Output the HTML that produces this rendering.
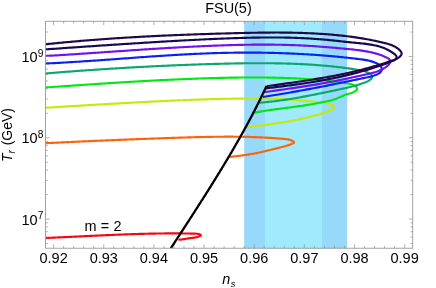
<!DOCTYPE html>
<html><head><meta charset="utf-8"><title>FSU(5)</title>
<style>
html,body{margin:0;padding:0;background:#fff;}
body{width:436px;height:288px;overflow:hidden;position:relative;font-family:"Liberation Sans",sans-serif;}
</style></head><body>
<svg width="436" height="288" viewBox="0 0 436 288" style="position:absolute;left:0;top:0;will-change:transform;opacity:0.999">
<rect width="436" height="288" fill="#fff"/>
<rect x="244.20" y="21.25" width="103.00" height="226.95" fill="#96d9fb"/>
<rect x="265.00" y="21.25" width="57.00" height="226.95" fill="#9feafc"/>
<defs><clipPath id="c"><rect x="45.60" y="21.25" width="367.15" height="226.95"/></clipPath></defs>
<g clip-path="url(#c)" fill="none" stroke-linecap="butt" stroke-linejoin="round">
<path d="M45.59 237.97 L46.19 237.95 L46.79 237.92 L47.39 237.90 L47.99 237.88 L48.59 237.85 L49.19 237.83 L49.79 237.80 L50.39 237.77 L50.99 237.75 L51.59 237.72 L52.19 237.70 L52.79 237.67 L53.39 237.65 L53.99 237.62 L54.59 237.59 L55.19 237.57 L55.79 237.54 L56.39 237.51 L56.99 237.49 L57.59 237.46 L58.19 237.43 L58.78 237.41 L59.38 237.38 L59.98 237.35 L60.58 237.33 L61.18 237.30 L61.78 237.27 L62.38 237.24 L62.98 237.22 L63.58 237.19 L64.18 237.16 L64.78 237.13 L65.38 237.11 L65.98 237.08 L66.58 237.05 L67.18 237.02 L67.78 236.99 L68.38 236.97 L68.98 236.94 L69.57 236.91 L70.17 236.88 L70.77 236.85 L71.37 236.82 L71.97 236.80 L72.57 236.77 L73.17 236.74 L73.77 236.71 L74.37 236.68 L74.97 236.65 L75.57 236.63 L76.17 236.60 L76.77 236.57 L77.36 236.54 L77.96 236.51 L78.56 236.48 L79.16 236.45 L79.76 236.42 L80.36 236.40 L80.96 236.37 L81.56 236.34 L82.16 236.31 L82.76 236.28 L83.35 236.25 L83.95 236.22 L84.55 236.19 L85.15 236.17 L85.75 236.14 L86.35 236.11 L86.95 236.08 L87.55 236.05 L88.15 236.02 L88.74 235.99 L89.34 235.97 L89.94 235.94 L90.54 235.91 L91.14 235.88 L91.74 235.85 L92.34 235.82 L92.94 235.80 L93.54 235.77 L94.13 235.74 L94.73 235.71 L95.33 235.68 L95.93 235.65 L96.53 235.63 L97.13 235.60 L97.73 235.57 L98.33 235.54 L98.92 235.52 L99.52 235.49 L100.12 235.46 L100.72 235.43 L101.32 235.40 L101.92 235.38 L102.52 235.35 L103.12 235.32 L103.71 235.30 L104.31 235.27 L104.91 235.24 L105.51 235.22 L106.11 235.19 L106.71 235.16 L107.31 235.14 L107.91 235.11 L108.51 235.08 L109.10 235.06 L109.70 235.03 L110.30 235.00 L110.90 234.98 L111.50 234.95 L112.10 234.93 L112.70 234.90 L113.30 234.88 L113.89 234.85 L114.49 234.83 L115.09 234.80 L115.69 234.78 L116.29 234.75 L116.89 234.73 L117.49 234.70 L118.09 234.68 L118.69 234.65 L119.28 234.63 L119.88 234.61 L120.48 234.58 L121.08 234.56 L121.68 234.54 L122.28 234.51 L122.88 234.49 L123.48 234.47 L124.08 234.44 L124.68 234.42 L125.27 234.40 L125.87 234.38 L126.47 234.36 L127.07 234.33 L127.67 234.31 L128.27 234.29 L128.87 234.27 L129.47 234.25 L130.07 234.23 L130.67 234.21 L131.27 234.19 L131.86 234.17 L132.46 234.15 L133.06 234.13 L133.66 234.11 L134.26 234.09 L134.86 234.07 L135.46 234.05 L136.06 234.03 L136.66 234.01 L137.26 233.99 L137.86 233.98 L138.46 233.96 L139.06 233.94 L139.66 233.92 L140.25 233.91 L140.85 233.89 L141.45 233.87 L142.05 233.86 L142.65 233.84 L143.25 233.82 L143.85 233.81 L144.45 233.79 L145.05 233.78 L145.65 233.76 L146.25 233.75 L146.85 233.73 L147.45 233.72 L148.05 233.71 L148.65 233.69 L149.25 233.68 L149.85 233.67 L150.45 233.65 L151.05 233.64 L151.65 233.63 L152.25 233.62 L152.85 233.61 L153.45 233.60 L154.05 233.58 L154.65 233.57 L155.25 233.56 L155.85 233.55 L156.45 233.54 L157.05 233.53 L157.65 233.52 L158.25 233.52 L158.85 233.51 L159.45 233.50 L160.05 233.49 L160.65 233.48 L161.25 233.48 L161.85 233.47 L162.45 233.46 L163.05 233.46 L163.65 233.45 L164.25 233.45 L164.85 233.44 L165.45 233.43 L166.05 233.43 L166.65 233.43 L167.25 233.42 L167.86 233.42 L168.46 233.42 L169.06 233.41 L169.66 233.41 L170.26 233.41 L170.86 233.41 L171.46 233.40 L172.06 233.40 L172.66 233.40 L173.26 233.40 L173.86 233.40 L174.47 233.40 L175.07 233.40 L175.67 233.41 L176.27 233.41 L176.87 233.41 L177.47 233.41 L178.07 233.41 L178.67 233.42 L179.28 233.42 L179.88 233.42 L180.48 233.43 L181.08 233.43 L181.68 233.44 L182.28 233.44 L182.89 233.45 L183.49 233.46 L184.09 233.46 L184.69 233.47 L185.29 233.48 L185.89 233.49 L186.50 233.50 L187.10 233.50 L187.70 233.51 L188.30 233.52 L188.91 233.53 L189.51 233.54 L190.11 233.56 L190.71 233.57 L191.31 233.58 L191.92 233.59 L192.52 233.60 L193.12 233.62 L193.72 233.63 L194.33 233.65 L194.93 233.66 L195.53 233.68 L196.13 233.70 L196.73 233.73 L197.33 233.79 L197.93 233.87 L198.52 234.00 L199.11 234.16 L199.69 234.38 L200.24 234.64 L200.66 234.94 L200.86 235.25 L200.75 235.56 L200.40 235.84 L199.89 236.11 L199.33 236.35 L198.76 236.57 L198.18 236.77 L197.59 236.95 L197.00 237.11 L196.41 237.25 L195.81 237.37 L195.20 237.49 L194.60 237.59 L193.99 237.68 L193.38 237.77 L192.77 237.85 L192.16 237.93 L191.56 238.00 L190.95 238.08 L190.35 238.16 L189.75 238.24 L189.16 238.33 L188.56 238.42 L187.97 238.51 L187.39 238.60 L186.80 238.70 L186.21 238.79 L185.63 238.89 L185.04 238.99 L184.46 239.08 L183.87 239.17 L183.29 239.26 L182.70 239.34 L182.11 239.42 L181.51 239.50 L180.91 239.57 L180.31 239.63 L179.71 239.69 L179.10 239.74 L178.48 239.78" stroke="#f40810" stroke-width="2.15"/>
<path d="M45.59 143.18 L46.65 143.13 L47.71 143.08 L48.77 143.03 L49.83 142.98 L50.89 142.92 L51.94 142.87 L53.00 142.82 L54.06 142.77 L55.12 142.72 L56.18 142.67 L57.24 142.62 L58.30 142.57 L59.35 142.52 L60.41 142.47 L61.47 142.42 L62.53 142.37 L63.59 142.32 L64.64 142.27 L65.70 142.22 L66.76 142.17 L67.82 142.12 L68.88 142.07 L69.94 142.02 L70.99 141.97 L72.05 141.92 L73.11 141.87 L74.17 141.82 L75.23 141.77 L76.28 141.73 L77.34 141.68 L78.40 141.63 L79.46 141.58 L80.52 141.53 L81.57 141.49 L82.63 141.44 L83.69 141.39 L84.75 141.34 L85.80 141.30 L86.86 141.25 L87.92 141.20 L88.98 141.15 L90.04 141.11 L91.09 141.06 L92.15 141.01 L93.21 140.97 L94.27 140.92 L95.33 140.88 L96.38 140.83 L97.44 140.78 L98.50 140.74 L99.56 140.69 L100.61 140.65 L101.67 140.60 L102.73 140.56 L103.79 140.51 L104.85 140.47 L105.90 140.42 L106.96 140.38 L108.02 140.33 L109.08 140.29 L110.14 140.25 L111.19 140.20 L112.25 140.16 L113.31 140.11 L114.37 140.07 L115.42 140.03 L116.48 139.98 L117.54 139.94 L118.60 139.90 L119.66 139.86 L120.71 139.81 L121.77 139.77 L122.83 139.73 L123.89 139.69 L124.95 139.64 L126.00 139.60 L127.06 139.56 L128.12 139.52 L129.18 139.48 L130.24 139.43 L131.29 139.39 L132.35 139.35 L133.41 139.31 L134.47 139.27 L135.53 139.23 L136.58 139.19 L137.64 139.15 L138.70 139.11 L139.76 139.07 L140.82 139.03 L141.87 138.99 L142.93 138.95 L143.99 138.91 L145.05 138.87 L146.11 138.83 L147.17 138.79 L148.22 138.75 L149.28 138.71 L150.34 138.67 L151.40 138.64 L152.46 138.60 L153.51 138.56 L154.57 138.52 L155.63 138.48 L156.69 138.45 L157.75 138.41 L158.81 138.37 L159.87 138.33 L160.92 138.30 L161.98 138.26 L163.04 138.22 L164.10 138.19 L165.16 138.15 L166.22 138.11 L167.28 138.08 L168.33 138.04 L169.39 138.00 L170.45 137.97 L171.51 137.93 L172.57 137.90 L173.63 137.86 L174.69 137.83 L175.75 137.79 L176.81 137.76 L177.86 137.72 L178.92 137.69 L179.98 137.65 L181.04 137.62 L182.10 137.58 L183.16 137.55 L184.22 137.52 L185.28 137.48 L186.34 137.45 L187.40 137.42 L188.46 137.39 L189.52 137.36 L190.57 137.32 L191.63 137.29 L192.69 137.26 L193.75 137.23 L194.81 137.20 L195.87 137.18 L196.93 137.15 L197.99 137.12 L199.05 137.09 L200.11 137.07 L201.17 137.04 L202.23 137.02 L203.29 136.99 L204.35 136.97 L205.40 136.95 L206.46 136.92 L207.52 136.90 L208.58 136.88 L209.64 136.86 L210.70 136.85 L211.76 136.83 L212.82 136.81 L213.88 136.79 L214.94 136.78 L216.00 136.77 L217.06 136.75 L218.12 136.74 L219.17 136.73 L220.23 136.72 L221.29 136.71 L222.35 136.70 L223.41 136.70 L224.47 136.69 L225.53 136.69 L226.59 136.68 L227.65 136.68 L228.70 136.68 L229.76 136.68 L230.82 136.69 L231.88 136.69 L232.94 136.69 L234.00 136.70 L235.06 136.71 L236.11 136.72 L237.17 136.73 L238.23 136.74 L239.29 136.75 L240.35 136.77 L241.41 136.78 L242.46 136.80 L243.52 136.82 L244.58 136.84 L245.64 136.86 L246.70 136.89 L247.75 136.91 L248.81 136.94 L249.87 136.97 L250.93 137.00 L251.98 137.03 L253.04 137.07 L254.10 137.10 L255.15 137.14 L256.21 137.18 L257.27 137.22 L258.33 137.26 L259.38 137.31 L260.44 137.36 L261.50 137.41 L262.55 137.46 L263.61 137.51 L264.67 137.57 L265.72 137.62 L266.78 137.68 L267.83 137.74 L268.89 137.81 L269.95 137.87 L271.00 137.94 L272.06 138.01 L273.11 138.08 L274.17 138.16 L275.22 138.24 L276.28 138.31 L277.33 138.40 L278.39 138.48 L279.44 138.56 L280.50 138.65 L281.55 138.74 L282.61 138.84 L283.66 138.93 L284.72 139.03 L285.77 139.13 L286.82 139.24 L287.88 139.38 L288.94 139.57 L290.00 139.84 L291.06 140.19 L292.13 140.67 L293.16 141.26 L293.90 141.90 L294.07 142.53 L293.58 143.09 L292.66 143.59 L291.54 144.05 L290.42 144.48 L289.32 144.88 L288.24 145.25 L287.18 145.60 L286.13 145.93 L285.10 146.24 L284.07 146.53 L283.06 146.80 L282.06 147.06 L281.06 147.31 L280.07 147.55 L279.08 147.79 L278.09 148.02 L277.10 148.25 L276.11 148.48 L275.11 148.72 L274.11 148.96 L273.10 149.20 L272.08 149.46 L271.05 149.72 L270.01 149.98 L268.97 150.25 L267.93 150.52 L266.88 150.78 L265.84 151.04 L264.79 151.30 L263.75 151.54 L262.71 151.78 L261.66 152.02 L260.62 152.25 L259.58 152.47 L258.54 152.69 L257.50 152.90 L256.46 153.11 L255.42 153.31 L254.38 153.50 L253.34 153.69 L252.30 153.88 L251.26 154.06 L250.22 154.23 L249.18 154.41 L248.14 154.57 L247.10 154.74 L246.06 154.90 L245.02 155.05 L243.97 155.20 L242.93 155.35 L241.89 155.49 L240.84 155.64 L239.79 155.77 L238.74 155.91 L237.69 156.04 L236.64 156.17 L235.59 156.30 L234.54 156.42 L233.48 156.55 L232.42 156.67 L231.36 156.79 L230.30 156.90 L229.24 157.02" stroke="#ff6208" stroke-width="2.15"/>
<path d="M45.60 107.73 L46.87 107.66 L48.14 107.58 L49.41 107.50 L50.68 107.43 L51.95 107.35 L53.22 107.27 L54.49 107.20 L55.76 107.12 L57.04 107.04 L58.31 106.96 L59.58 106.89 L60.85 106.81 L62.12 106.73 L63.39 106.66 L64.66 106.58 L65.93 106.50 L67.20 106.42 L68.47 106.35 L69.75 106.27 L71.02 106.19 L72.29 106.12 L73.56 106.04 L74.83 105.96 L76.10 105.89 L77.37 105.81 L78.64 105.73 L79.91 105.66 L81.18 105.58 L82.45 105.50 L83.72 105.43 L85.00 105.35 L86.27 105.27 L87.54 105.20 L88.81 105.12 L90.08 105.05 L91.35 104.97 L92.62 104.90 L93.89 104.82 L95.16 104.75 L96.43 104.67 L97.70 104.60 L98.97 104.52 L100.24 104.45 L101.51 104.37 L102.79 104.30 L104.06 104.22 L105.33 104.15 L106.60 104.07 L107.87 104.00 L109.14 103.93 L110.41 103.85 L111.68 103.78 L112.95 103.71 L114.22 103.64 L115.49 103.56 L116.76 103.49 L118.03 103.42 L119.31 103.35 L120.58 103.28 L121.85 103.21 L123.12 103.13 L124.39 103.06 L125.66 102.99 L126.93 102.92 L128.20 102.85 L129.47 102.78 L130.74 102.72 L132.01 102.65 L133.29 102.58 L134.56 102.51 L135.83 102.44 L137.10 102.37 L138.37 102.31 L139.64 102.24 L140.91 102.17 L142.18 102.11 L143.45 102.04 L144.72 101.98 L146.00 101.91 L147.27 101.85 L148.54 101.78 L149.81 101.72 L151.08 101.65 L152.35 101.59 L153.62 101.53 L154.89 101.46 L156.17 101.40 L157.44 101.34 L158.71 101.28 L159.98 101.22 L161.25 101.16 L162.52 101.10 L163.80 101.04 L165.07 100.98 L166.34 100.92 L167.61 100.86 L168.88 100.80 L170.15 100.75 L171.43 100.69 L172.70 100.63 L173.97 100.58 L175.24 100.52 L176.51 100.47 L177.78 100.41 L179.06 100.36 L180.33 100.30 L181.60 100.25 L182.87 100.20 L184.15 100.15 L185.42 100.10 L186.69 100.05 L187.96 99.99 L189.23 99.95 L190.51 99.90 L191.78 99.85 L193.05 99.80 L194.32 99.75 L195.60 99.70 L196.87 99.66 L198.14 99.61 L199.42 99.57 L200.69 99.52 L201.96 99.48 L203.23 99.44 L204.51 99.39 L205.78 99.35 L207.05 99.31 L208.33 99.27 L209.60 99.23 L210.87 99.19 L212.15 99.15 L213.42 99.12 L214.69 99.08 L215.97 99.05 L217.24 99.01 L218.51 98.98 L219.79 98.95 L221.06 98.92 L222.33 98.89 L223.61 98.86 L224.88 98.83 L226.15 98.80 L227.43 98.78 L228.70 98.75 L229.97 98.73 L231.24 98.71 L232.52 98.69 L233.79 98.67 L235.06 98.66 L236.34 98.64 L237.61 98.63 L238.88 98.61 L240.16 98.60 L241.43 98.59 L242.70 98.58 L243.98 98.58 L245.25 98.57 L246.52 98.57 L247.79 98.57 L249.07 98.57 L250.34 98.57 L251.61 98.57 L252.88 98.58 L254.16 98.59 L255.43 98.60 L256.70 98.61 L257.97 98.62 L259.25 98.64 L260.52 98.65 L261.79 98.67 L263.06 98.69 L264.33 98.72 L265.60 98.74 L266.88 98.77 L268.15 98.80 L269.42 98.83 L270.69 98.87 L271.96 98.90 L273.23 98.94 L274.50 98.98 L275.77 99.03 L277.04 99.07 L278.32 99.12 L279.59 99.17 L280.86 99.22 L282.13 99.28 L283.40 99.34 L284.67 99.40 L285.94 99.46 L287.21 99.53 L288.48 99.60 L289.75 99.67 L291.02 99.75 L292.29 99.83 L293.56 99.91 L294.83 99.99 L296.09 100.08 L297.36 100.17 L298.63 100.27 L299.90 100.36 L301.17 100.46 L302.44 100.57 L303.71 100.68 L304.98 100.79 L306.25 100.90 L307.52 101.02 L308.79 101.15 L310.06 101.27 L311.33 101.40 L312.60 101.54 L313.87 101.67 L315.14 101.82 L316.41 101.96 L317.69 102.11 L318.96 102.27 L320.23 102.42 L321.50 102.59 L322.77 102.75 L324.04 102.93 L325.31 103.10 L326.58 103.28 L327.85 103.47 L329.11 103.70 L330.34 104.03 L331.51 104.53 L332.60 105.25 L333.48 106.18 L333.87 107.20 L333.61 108.22 L332.86 109.13 L331.78 109.85 L330.52 110.41 L329.18 110.88 L327.86 111.32 L326.60 111.75 L325.38 112.19 L324.21 112.62 L323.05 113.04 L321.91 113.46 L320.76 113.86 L319.60 114.25 L318.41 114.62 L317.21 114.98 L315.99 115.33 L314.76 115.66 L313.51 115.99 L312.26 116.31 L311.01 116.62 L309.76 116.92 L308.51 117.22 L307.26 117.51 L306.02 117.80 L304.77 118.09 L303.53 118.37 L302.29 118.64 L301.05 118.91 L299.80 119.17 L298.56 119.43 L297.32 119.69 L296.07 119.93 L294.82 120.18 L293.57 120.42 L292.32 120.65 L291.07 120.88 L289.82 121.10 L288.57 121.32 L287.32 121.54 L286.06 121.75 L284.81 121.96 L283.55 122.17 L282.29 122.37 L281.04 122.57 L279.78 122.77 L278.52 122.96 L277.26 123.15 L276.00 123.34 L274.74 123.53 L273.48 123.71 L272.22 123.89 L270.96 124.07 L269.70 124.25 L268.43 124.43 L267.17 124.61 L265.91 124.78 L264.65 124.96 L263.39 125.13 L262.13 125.31 L260.86 125.48 L259.60 125.65 L258.34 125.83 L257.08 126.00 L255.82 126.17 L254.56 126.35 L253.30 126.52 L252.04 126.70 L250.78 126.88 L249.52 127.06 L248.26 127.24 L247.00 127.42" stroke="#c6ea08" stroke-width="2.15"/>
<path d="M45.60 87.49 L47.00 87.39 L48.40 87.29 L49.81 87.20 L51.21 87.10 L52.61 87.00 L54.02 86.90 L55.42 86.80 L56.82 86.70 L58.22 86.60 L59.63 86.51 L61.03 86.41 L62.43 86.31 L63.83 86.21 L65.24 86.11 L66.64 86.02 L68.04 85.92 L69.45 85.82 L70.85 85.72 L72.25 85.63 L73.66 85.53 L75.06 85.43 L76.46 85.34 L77.86 85.24 L79.27 85.15 L80.67 85.05 L82.07 84.95 L83.48 84.86 L84.88 84.76 L86.28 84.67 L87.69 84.57 L89.09 84.48 L90.49 84.38 L91.90 84.29 L93.30 84.20 L94.70 84.10 L96.11 84.01 L97.51 83.92 L98.91 83.82 L100.32 83.73 L101.72 83.64 L103.12 83.55 L104.53 83.46 L105.93 83.37 L107.33 83.28 L108.74 83.19 L110.14 83.10 L111.55 83.01 L112.95 82.92 L114.35 82.83 L115.76 82.74 L117.16 82.65 L118.56 82.57 L119.97 82.48 L121.37 82.39 L122.78 82.31 L124.18 82.22 L125.58 82.14 L126.99 82.05 L128.39 81.97 L129.79 81.88 L131.20 81.80 L132.60 81.72 L134.01 81.64 L135.41 81.55 L136.81 81.47 L138.22 81.39 L139.62 81.31 L141.03 81.23 L142.43 81.15 L143.84 81.08 L145.24 81.00 L146.64 80.92 L148.05 80.84 L149.45 80.77 L150.86 80.69 L152.26 80.62 L153.67 80.54 L155.07 80.47 L156.48 80.40 L157.88 80.33 L159.28 80.25 L160.69 80.18 L162.09 80.11 L163.50 80.04 L164.90 79.97 L166.31 79.91 L167.71 79.84 L169.12 79.77 L170.52 79.71 L171.93 79.64 L173.33 79.58 L174.74 79.51 L176.14 79.45 L177.55 79.39 L178.95 79.32 L180.36 79.26 L181.76 79.20 L183.17 79.14 L184.57 79.09 L185.98 79.03 L187.38 78.97 L188.79 78.91 L190.19 78.86 L191.60 78.81 L193.00 78.75 L194.41 78.70 L195.81 78.65 L197.22 78.60 L198.63 78.55 L200.03 78.50 L201.44 78.45 L202.84 78.40 L204.25 78.35 L205.65 78.31 L207.06 78.26 L208.46 78.22 L209.87 78.18 L211.28 78.14 L212.68 78.10 L214.09 78.06 L215.49 78.02 L216.90 77.98 L218.31 77.94 L219.71 77.91 L221.12 77.87 L222.52 77.84 L223.93 77.81 L225.34 77.78 L226.74 77.75 L228.15 77.72 L229.55 77.69 L230.96 77.67 L232.37 77.64 L233.77 77.62 L235.18 77.60 L236.59 77.58 L237.99 77.56 L239.40 77.54 L240.80 77.53 L242.21 77.51 L243.62 77.50 L245.02 77.49 L246.43 77.48 L247.83 77.47 L249.24 77.47 L250.65 77.46 L252.05 77.46 L253.46 77.46 L254.87 77.46 L256.27 77.46 L257.68 77.47 L259.08 77.48 L260.49 77.48 L261.90 77.49 L263.30 77.51 L264.71 77.52 L266.12 77.54 L267.52 77.56 L268.93 77.58 L270.33 77.60 L271.74 77.63 L273.15 77.65 L274.55 77.68 L275.96 77.72 L277.36 77.75 L278.77 77.79 L280.18 77.82 L281.58 77.86 L282.99 77.91 L284.39 77.95 L285.80 78.00 L287.20 78.05 L288.61 78.11 L290.02 78.16 L291.42 78.22 L292.83 78.28 L294.23 78.34 L295.64 78.41 L297.04 78.48 L298.45 78.55 L299.85 78.62 L301.26 78.70 L302.66 78.78 L304.07 78.86 L305.47 78.95 L306.88 79.04 L308.28 79.13 L309.68 79.23 L311.09 79.33 L312.49 79.43 L313.89 79.54 L315.29 79.65 L316.70 79.77 L318.10 79.89 L319.50 80.01 L320.90 80.14 L322.30 80.27 L323.70 80.40 L325.10 80.54 L326.49 80.69 L327.89 80.84 L329.29 80.99 L330.69 81.15 L332.08 81.31 L333.48 81.47 L334.87 81.65 L336.26 81.82 L337.66 82.00 L339.05 82.19 L340.44 82.38 L341.83 82.58 L343.22 82.78 L344.61 82.99 L346.00 83.20 L347.39 83.42 L348.77 83.65 L350.15 83.93 L351.53 84.29 L352.90 84.79 L354.26 85.46 L355.56 86.33 L356.59 87.34 L357.09 88.42 L356.87 89.48 L356.05 90.49 L354.86 91.38 L353.51 92.12 L352.14 92.69 L350.76 93.16 L349.37 93.56 L348.00 93.95 L346.65 94.37 L345.33 94.84 L344.02 95.35 L342.72 95.89 L341.44 96.45 L340.16 97.01 L338.88 97.58 L337.59 98.12 L336.30 98.65 L334.99 99.13 L333.66 99.58 L332.32 99.98 L330.97 100.35 L329.60 100.69 L328.22 101.01 L326.84 101.31 L325.46 101.59 L324.07 101.86 L322.68 102.14 L321.30 102.41 L319.92 102.68 L318.53 102.95 L317.15 103.21 L315.77 103.47 L314.39 103.73 L313.01 103.98 L311.62 104.23 L310.24 104.46 L308.85 104.70 L307.47 104.92 L306.08 105.14 L304.69 105.36 L303.30 105.57 L301.91 105.77 L300.52 105.98 L299.13 106.18 L297.74 106.37 L296.34 106.56 L294.95 106.75 L293.56 106.94 L292.16 107.12 L290.77 107.31 L289.37 107.49 L287.98 107.67 L286.58 107.85 L285.19 108.03 L283.79 108.22 L282.40 108.40 L281.00 108.58 L279.61 108.76 L278.21 108.95 L276.82 109.14 L275.42 109.33 L274.03 109.52 L272.64 109.71 L271.24 109.91 L269.85 110.11 L268.46 110.32 L267.07 110.53 L265.68 110.75 L264.29 110.97 L262.90 111.20 L261.52 111.43 L260.13 111.67 L258.75 111.91 L257.36 112.16 L255.98 112.42 L254.60 112.69" stroke="#00e812" stroke-width="2.15"/>
<path d="M45.60 73.45 L47.09 73.32 L48.58 73.20 L50.07 73.08 L51.56 72.96 L53.05 72.84 L54.54 72.73 L56.03 72.61 L57.52 72.49 L59.01 72.37 L60.50 72.26 L61.99 72.14 L63.48 72.03 L64.97 71.91 L66.46 71.80 L67.95 71.68 L69.44 71.57 L70.93 71.46 L72.42 71.35 L73.91 71.24 L75.41 71.13 L76.90 71.02 L78.39 70.91 L79.88 70.80 L81.37 70.69 L82.86 70.59 L84.35 70.48 L85.84 70.38 L87.34 70.27 L88.83 70.17 L90.32 70.06 L91.81 69.96 L93.30 69.86 L94.79 69.76 L96.29 69.66 L97.78 69.56 L99.27 69.46 L100.76 69.36 L102.25 69.26 L103.75 69.16 L105.24 69.07 L106.73 68.97 L108.22 68.87 L109.72 68.78 L111.21 68.68 L112.70 68.59 L114.19 68.50 L115.69 68.41 L117.18 68.32 L118.67 68.22 L120.16 68.13 L121.66 68.05 L123.15 67.96 L124.64 67.87 L126.14 67.78 L127.63 67.69 L129.12 67.61 L130.62 67.52 L132.11 67.44 L133.60 67.36 L135.10 67.27 L136.59 67.19 L138.08 67.11 L139.58 67.03 L141.07 66.95 L142.56 66.87 L144.06 66.79 L145.55 66.71 L147.04 66.64 L148.54 66.56 L150.03 66.48 L151.52 66.41 L153.02 66.33 L154.51 66.26 L156.01 66.19 L157.50 66.12 L158.99 66.04 L160.49 65.97 L161.98 65.90 L163.47 65.83 L164.97 65.77 L166.46 65.70 L167.96 65.63 L169.45 65.57 L170.94 65.50 L172.44 65.44 L173.93 65.37 L175.43 65.31 L176.92 65.25 L178.41 65.18 L179.91 65.12 L181.40 65.06 L182.90 65.00 L184.39 64.95 L185.89 64.89 L187.38 64.83 L188.87 64.78 L190.37 64.72 L191.86 64.67 L193.36 64.61 L194.85 64.56 L196.34 64.51 L197.84 64.45 L199.33 64.40 L200.83 64.35 L202.32 64.30 L203.82 64.26 L205.31 64.21 L206.80 64.16 L208.30 64.12 L209.79 64.07 L211.29 64.03 L212.78 63.98 L214.28 63.94 L215.77 63.90 L217.26 63.86 L218.76 63.82 L220.25 63.78 L221.75 63.74 L223.24 63.70 L224.74 63.67 L226.23 63.63 L227.72 63.60 L229.22 63.56 L230.71 63.53 L232.21 63.50 L233.70 63.47 L235.19 63.44 L236.69 63.41 L238.18 63.39 L239.68 63.36 L241.17 63.34 L242.67 63.32 L244.16 63.30 L245.65 63.28 L247.15 63.26 L248.64 63.25 L250.14 63.24 L251.63 63.23 L253.13 63.22 L254.62 63.21 L256.12 63.20 L257.61 63.20 L259.11 63.20 L260.60 63.20 L262.09 63.20 L263.59 63.20 L265.08 63.21 L266.58 63.22 L268.07 63.23 L269.57 63.24 L271.06 63.25 L272.56 63.27 L274.05 63.29 L275.55 63.31 L277.04 63.34 L278.54 63.37 L280.03 63.40 L281.53 63.43 L283.02 63.46 L284.52 63.50 L286.02 63.54 L287.51 63.59 L289.01 63.63 L290.50 63.68 L292.00 63.73 L293.49 63.79 L294.99 63.84 L296.49 63.91 L297.98 63.97 L299.48 64.04 L300.97 64.11 L302.47 64.18 L303.97 64.26 L305.46 64.34 L306.96 64.42 L308.46 64.51 L309.95 64.60 L311.45 64.69 L312.94 64.79 L314.44 64.89 L315.93 64.99 L317.43 65.10 L318.92 65.22 L320.41 65.33 L321.91 65.46 L323.40 65.58 L324.89 65.71 L326.38 65.84 L327.87 65.98 L329.36 66.13 L330.85 66.27 L332.33 66.43 L333.82 66.58 L335.31 66.75 L336.79 66.91 L338.27 67.09 L339.75 67.26 L341.23 67.44 L342.71 67.63 L344.19 67.82 L345.66 68.02 L347.13 68.23 L348.60 68.43 L350.07 68.65 L351.54 68.87 L353.01 69.10 L354.47 69.33 L355.94 69.57 L357.40 69.81 L358.85 70.06 L360.31 70.32 L361.77 70.59 L363.23 70.91 L364.70 71.30 L366.18 71.79 L367.69 72.42 L369.21 73.21 L370.62 74.15 L371.71 75.20 L372.26 76.34 L372.11 77.52 L371.35 78.68 L370.22 79.74 L368.95 80.63 L367.60 81.37 L366.20 82.00 L364.77 82.56 L363.34 83.08 L361.91 83.59 L360.48 84.07 L359.05 84.53 L357.61 84.97 L356.18 85.39 L354.74 85.80 L353.30 86.19 L351.86 86.57 L350.42 86.93 L348.98 87.28 L347.53 87.62 L346.09 87.96 L344.64 88.28 L343.19 88.60 L341.73 88.92 L340.28 89.23 L338.82 89.54 L337.36 89.85 L335.90 90.16 L334.44 90.47 L332.97 90.78 L331.51 91.08 L330.04 91.39 L328.57 91.70 L327.11 92.00 L325.64 92.30 L324.17 92.61 L322.70 92.91 L321.23 93.21 L319.76 93.51 L318.30 93.81 L316.83 94.10 L315.36 94.39 L313.89 94.69 L312.42 94.98 L310.96 95.26 L309.49 95.55 L308.02 95.83 L306.55 96.11 L305.08 96.39 L303.61 96.66 L302.14 96.93 L300.67 97.20 L299.20 97.46 L297.73 97.72 L296.25 97.98 L294.78 98.23 L293.31 98.48 L291.84 98.72 L290.36 98.96 L288.89 99.19 L287.41 99.43 L285.93 99.65 L284.46 99.87 L282.98 100.09 L281.50 100.30 L280.02 100.50 L278.54 100.70 L277.06 100.90 L275.57 101.09 L274.09 101.27 L272.61 101.45 L271.12 101.62 L269.63 101.78 L268.15 101.94 L266.66 102.09 L265.17 102.23 L263.68 102.37 L262.18 102.50 L260.69 102.62 L259.19 102.74" stroke="#08a86e" stroke-width="2.15"/>
<path d="M45.61 63.51 L47.16 63.44 L48.71 63.36 L50.26 63.29 L51.81 63.21 L53.36 63.14 L54.91 63.06 L56.46 62.98 L58.01 62.89 L59.56 62.81 L61.10 62.72 L62.65 62.64 L64.20 62.55 L65.75 62.46 L67.30 62.37 L68.85 62.28 L70.40 62.19 L71.95 62.09 L73.50 62.00 L75.05 61.90 L76.60 61.80 L78.15 61.70 L79.70 61.60 L81.25 61.50 L82.79 61.40 L84.34 61.30 L85.89 61.19 L87.44 61.09 L88.99 60.99 L90.54 60.88 L92.09 60.77 L93.64 60.67 L95.19 60.56 L96.74 60.45 L98.29 60.34 L99.84 60.23 L101.39 60.12 L102.94 60.01 L104.49 59.90 L106.04 59.79 L107.58 59.68 L109.13 59.56 L110.68 59.45 L112.23 59.34 L113.78 59.22 L115.33 59.11 L116.88 59.00 L118.43 58.88 L119.98 58.77 L121.53 58.66 L123.08 58.54 L124.63 58.43 L126.18 58.32 L127.73 58.20 L129.28 58.09 L130.83 57.98 L132.38 57.86 L133.93 57.75 L135.48 57.64 L137.03 57.53 L138.58 57.42 L140.13 57.30 L141.68 57.19 L143.23 57.08 L144.78 56.97 L146.33 56.86 L147.88 56.76 L149.43 56.65 L150.98 56.54 L152.52 56.43 L154.07 56.33 L155.62 56.22 L157.17 56.12 L158.72 56.01 L160.27 55.91 L161.82 55.81 L163.37 55.71 L164.92 55.61 L166.47 55.51 L168.02 55.41 L169.57 55.31 L171.12 55.22 L172.68 55.12 L174.23 55.03 L175.78 54.94 L177.33 54.85 L178.88 54.76 L180.43 54.67 L181.98 54.58 L183.53 54.50 L185.08 54.41 L186.63 54.33 L188.18 54.25 L189.73 54.17 L191.28 54.09 L192.83 54.01 L194.38 53.94 L195.93 53.86 L197.48 53.79 L199.03 53.72 L200.58 53.66 L202.13 53.59 L203.68 53.53 L205.23 53.46 L206.78 53.40 L208.34 53.35 L209.89 53.29 L211.44 53.23 L212.99 53.18 L214.54 53.13 L216.09 53.08 L217.64 53.04 L219.19 53.00 L220.74 52.95 L222.29 52.92 L223.84 52.88 L225.40 52.84 L226.95 52.81 L228.50 52.78 L230.05 52.75 L231.60 52.73 L233.15 52.71 L234.70 52.69 L236.25 52.67 L237.81 52.65 L239.36 52.64 L240.91 52.63 L242.46 52.62 L244.01 52.61 L245.56 52.60 L247.12 52.60 L248.67 52.60 L250.22 52.60 L251.77 52.61 L253.32 52.62 L254.88 52.63 L256.43 52.64 L257.98 52.65 L259.53 52.67 L261.08 52.69 L262.64 52.71 L264.19 52.73 L265.74 52.76 L267.29 52.79 L268.85 52.82 L270.40 52.85 L271.95 52.89 L273.51 52.92 L275.06 52.96 L276.61 53.01 L278.17 53.05 L279.72 53.10 L281.27 53.15 L282.83 53.20 L284.38 53.26 L285.93 53.32 L287.49 53.38 L289.04 53.44 L290.60 53.51 L292.15 53.57 L293.71 53.64 L295.26 53.72 L296.81 53.79 L298.37 53.87 L299.92 53.95 L301.48 54.03 L303.03 54.12 L304.59 54.21 L306.14 54.30 L307.70 54.39 L309.25 54.49 L310.81 54.59 L312.36 54.69 L313.92 54.79 L315.47 54.90 L317.03 55.01 L318.58 55.12 L320.13 55.23 L321.69 55.35 L323.24 55.47 L324.79 55.59 L326.34 55.72 L327.89 55.85 L329.43 55.98 L330.98 56.11 L332.53 56.25 L334.07 56.39 L335.62 56.53 L337.16 56.68 L338.70 56.82 L340.24 56.98 L341.78 57.13 L343.32 57.29 L344.85 57.45 L346.38 57.61 L347.92 57.78 L349.45 57.95 L350.98 58.12 L352.50 58.29 L354.03 58.47 L355.55 58.65 L357.07 58.84 L358.59 59.02 L360.10 59.22 L361.62 59.41 L363.13 59.62 L364.65 59.85 L366.17 60.11 L367.69 60.41 L369.22 60.75 L370.76 61.15 L372.31 61.61 L373.87 62.15 L375.44 62.76 L376.99 63.46 L378.45 64.27 L379.74 65.18 L380.78 66.23 L381.49 67.41 L381.79 68.73 L381.63 70.19 L381.00 71.59 L379.94 72.74 L378.58 73.65 L377.09 74.39 L375.58 75.03 L374.08 75.58 L372.59 76.06 L371.09 76.48 L369.60 76.85 L368.11 77.18 L366.61 77.49 L365.12 77.79 L363.62 78.09 L362.11 78.39 L360.60 78.70 L359.09 79.02 L357.57 79.33 L356.05 79.65 L354.53 79.97 L353.01 80.29 L351.48 80.61 L349.96 80.93 L348.43 81.25 L346.91 81.56 L345.39 81.88 L343.86 82.19 L342.34 82.51 L340.82 82.82 L339.29 83.13 L337.77 83.44 L336.25 83.75 L334.72 84.06 L333.20 84.37 L331.67 84.67 L330.15 84.98 L328.63 85.28 L327.10 85.59 L325.58 85.89 L324.06 86.19 L322.53 86.49 L321.01 86.78 L319.48 87.08 L317.96 87.37 L316.43 87.67 L314.91 87.96 L313.39 88.25 L311.86 88.54 L310.33 88.83 L308.81 89.11 L307.28 89.40 L305.76 89.68 L304.23 89.96 L302.71 90.24 L301.18 90.52 L299.65 90.80 L298.12 91.08 L296.60 91.35 L295.07 91.63 L293.54 91.90 L292.01 92.17 L290.48 92.44 L288.96 92.70 L287.43 92.97 L285.90 93.23 L284.37 93.49 L282.84 93.75 L281.30 94.01 L279.77 94.27 L278.24 94.52 L276.71 94.78 L275.18 95.03 L273.64 95.28 L272.11 95.53 L270.57 95.78 L269.04 96.02 L267.51 96.26 L265.97 96.51 L264.43 96.74 L262.90 96.98" stroke="#0a20f6" stroke-width="2.15"/>
<path d="M45.60 55.97 L47.20 55.88 L48.80 55.79 L50.41 55.69 L52.01 55.60 L53.62 55.51 L55.22 55.41 L56.82 55.31 L58.43 55.22 L60.03 55.12 L61.63 55.02 L63.24 54.92 L64.84 54.82 L66.44 54.72 L68.05 54.62 L69.65 54.51 L71.25 54.41 L72.85 54.31 L74.46 54.20 L76.06 54.10 L77.66 54.00 L79.26 53.89 L80.87 53.78 L82.47 53.68 L84.07 53.57 L85.67 53.46 L87.28 53.36 L88.88 53.25 L90.48 53.14 L92.08 53.03 L93.69 52.92 L95.29 52.82 L96.89 52.71 L98.49 52.60 L100.10 52.49 L101.70 52.38 L103.30 52.27 L104.90 52.16 L106.50 52.05 L108.11 51.94 L109.71 51.83 L111.31 51.72 L112.91 51.61 L114.51 51.50 L116.12 51.39 L117.72 51.28 L119.32 51.17 L120.92 51.06 L122.52 50.95 L124.13 50.84 L125.73 50.73 L127.33 50.62 L128.93 50.51 L130.53 50.41 L132.13 50.30 L133.74 50.19 L135.34 50.08 L136.94 49.97 L138.54 49.87 L140.15 49.76 L141.75 49.66 L143.35 49.55 L144.95 49.44 L146.55 49.34 L148.16 49.24 L149.76 49.13 L151.36 49.03 L152.96 48.93 L154.56 48.83 L156.17 48.72 L157.77 48.62 L159.37 48.52 L160.97 48.42 L162.58 48.33 L164.18 48.23 L165.78 48.13 L167.39 48.03 L168.99 47.94 L170.59 47.85 L172.19 47.75 L173.80 47.66 L175.40 47.57 L177.00 47.48 L178.61 47.39 L180.21 47.30 L181.81 47.21 L183.42 47.12 L185.02 47.04 L186.62 46.95 L188.23 46.87 L189.83 46.78 L191.43 46.70 L193.04 46.62 L194.64 46.54 L196.25 46.46 L197.85 46.39 L199.45 46.31 L201.06 46.24 L202.66 46.16 L204.27 46.09 L205.87 46.02 L207.48 45.95 L209.08 45.89 L210.69 45.82 L212.29 45.75 L213.90 45.69 L215.50 45.63 L217.11 45.57 L218.71 45.51 L220.32 45.45 L221.92 45.40 L223.53 45.34 L225.14 45.29 L226.74 45.24 L228.35 45.19 L229.96 45.14 L231.56 45.10 L233.17 45.05 L234.78 45.01 L236.38 44.97 L237.99 44.93 L239.60 44.90 L241.20 44.86 L242.81 44.83 L244.42 44.80 L246.02 44.77 L247.63 44.75 L249.24 44.72 L250.84 44.70 L252.45 44.68 L254.06 44.67 L255.66 44.65 L257.27 44.64 L258.88 44.63 L260.48 44.63 L262.09 44.63 L263.70 44.62 L265.30 44.63 L266.91 44.63 L268.51 44.64 L270.12 44.65 L271.73 44.66 L273.33 44.68 L274.94 44.70 L276.54 44.72 L278.15 44.74 L279.75 44.77 L281.36 44.80 L282.96 44.84 L284.56 44.88 L286.17 44.92 L287.77 44.96 L289.38 45.01 L290.98 45.06 L292.58 45.11 L294.19 45.17 L295.79 45.23 L297.39 45.30 L298.99 45.37 L300.59 45.44 L302.19 45.52 L303.80 45.60 L305.40 45.68 L307.00 45.77 L308.60 45.86 L310.20 45.95 L311.79 46.05 L313.39 46.16 L314.99 46.26 L316.59 46.38 L318.19 46.49 L319.79 46.61 L321.39 46.73 L322.98 46.85 L324.58 46.98 L326.18 47.11 L327.78 47.24 L329.39 47.38 L330.99 47.52 L332.59 47.65 L334.20 47.79 L335.81 47.94 L337.42 48.08 L339.03 48.22 L340.64 48.37 L342.25 48.51 L343.87 48.66 L345.49 48.81 L347.11 48.96 L348.73 49.11 L350.35 49.27 L351.97 49.43 L353.58 49.60 L355.20 49.78 L356.80 49.97 L358.40 50.17 L360.00 50.38 L361.59 50.60 L363.17 50.84 L364.75 51.09 L366.31 51.36 L367.86 51.64 L369.40 51.95 L370.93 52.27 L372.45 52.62 L373.96 52.99 L375.45 53.38 L376.95 53.81 L378.46 54.28 L379.98 54.79 L381.53 55.36 L383.10 55.97 L384.72 56.65 L386.36 57.40 L387.91 58.24 L389.19 59.20 L390.02 60.31 L390.23 61.58 L389.86 62.95 L389.04 64.28 L387.89 65.51 L386.52 66.63 L385.06 67.63 L383.60 68.51 L382.17 69.29 L380.74 69.99 L379.32 70.61 L377.88 71.17 L376.42 71.69 L374.92 72.18 L373.41 72.63 L371.87 73.05 L370.32 73.46 L368.75 73.84 L367.18 74.21 L365.59 74.56 L364.00 74.91 L362.41 75.25 L360.82 75.59 L359.24 75.94 L357.66 76.28 L356.08 76.63 L354.51 76.98 L352.94 77.32 L351.37 77.67 L349.80 78.01 L348.24 78.35 L346.67 78.69 L345.10 79.02 L343.54 79.35 L341.97 79.68 L340.40 80.00 L338.82 80.32 L337.25 80.63 L335.68 80.94 L334.10 81.24 L332.53 81.54 L330.95 81.84 L329.37 82.13 L327.80 82.42 L326.22 82.71 L324.64 82.99 L323.06 83.27 L321.47 83.55 L319.89 83.82 L318.31 84.09 L316.72 84.36 L315.14 84.62 L313.56 84.88 L311.97 85.14 L310.38 85.40 L308.80 85.66 L307.21 85.91 L305.62 86.16 L304.04 86.40 L302.45 86.65 L300.86 86.89 L299.27 87.14 L297.68 87.38 L296.09 87.61 L294.50 87.85 L292.91 88.09 L291.32 88.32 L289.73 88.55 L288.14 88.78 L286.55 89.02 L284.96 89.24 L283.37 89.47 L281.78 89.70 L280.19 89.93 L278.60 90.15 L277.01 90.38 L275.42 90.61 L273.83 90.83 L272.24 91.06 L270.66 91.28 L269.07 91.51 L267.48 91.73 L265.89 91.96 L264.30 92.18" stroke="#7410ee" stroke-width="2.15"/>
<path d="M45.60 49.39 L47.24 49.28 L48.88 49.16 L50.51 49.05 L52.15 48.93 L53.79 48.82 L55.43 48.70 L57.07 48.59 L58.70 48.47 L60.34 48.36 L61.98 48.24 L63.62 48.13 L65.26 48.01 L66.90 47.90 L68.54 47.78 L70.18 47.67 L71.82 47.56 L73.46 47.44 L75.10 47.33 L76.74 47.22 L78.38 47.11 L80.02 46.99 L81.66 46.88 L83.30 46.77 L84.94 46.66 L86.58 46.55 L88.22 46.43 L89.86 46.32 L91.50 46.21 L93.14 46.10 L94.78 45.99 L96.42 45.88 L98.06 45.77 L99.70 45.66 L101.34 45.55 L102.98 45.44 L104.63 45.33 L106.27 45.22 L107.91 45.11 L109.55 45.01 L111.19 44.90 L112.83 44.79 L114.47 44.68 L116.11 44.57 L117.75 44.47 L119.39 44.36 L121.03 44.25 L122.67 44.15 L124.32 44.04 L125.96 43.93 L127.60 43.83 L129.24 43.72 L130.88 43.62 L132.52 43.51 L134.16 43.41 L135.80 43.30 L137.44 43.20 L139.08 43.10 L140.72 42.99 L142.36 42.89 L144.00 42.79 L145.64 42.68 L147.28 42.58 L148.92 42.48 L150.56 42.38 L152.19 42.28 L153.83 42.18 L155.47 42.08 L157.11 41.98 L158.75 41.88 L160.39 41.78 L162.03 41.68 L163.67 41.58 L165.31 41.49 L166.95 41.39 L168.59 41.30 L170.23 41.20 L171.87 41.11 L173.50 41.01 L175.14 40.92 L176.78 40.83 L178.42 40.74 L180.06 40.64 L181.70 40.55 L183.34 40.46 L184.98 40.38 L186.62 40.29 L188.26 40.20 L189.90 40.12 L191.54 40.03 L193.18 39.95 L194.82 39.86 L196.46 39.78 L198.10 39.70 L199.74 39.62 L201.38 39.54 L203.02 39.46 L204.66 39.38 L206.30 39.30 L207.95 39.23 L209.59 39.15 L211.23 39.08 L212.87 39.01 L214.51 38.94 L216.15 38.87 L217.80 38.80 L219.44 38.73 L221.08 38.66 L222.73 38.60 L224.37 38.54 L226.01 38.47 L227.66 38.41 L229.30 38.35 L230.94 38.29 L232.59 38.23 L234.23 38.18 L235.88 38.12 L237.52 38.07 L239.17 38.02 L240.81 37.97 L242.46 37.92 L244.10 37.88 L245.75 37.83 L247.40 37.79 L249.04 37.75 L250.69 37.71 L252.33 37.68 L253.98 37.64 L255.63 37.61 L257.27 37.59 L258.92 37.56 L260.56 37.54 L262.21 37.52 L263.86 37.50 L265.50 37.49 L267.15 37.48 L268.79 37.47 L270.44 37.46 L272.08 37.46 L273.73 37.46 L275.37 37.47 L277.01 37.48 L278.66 37.49 L280.30 37.51 L281.95 37.53 L283.59 37.55 L285.23 37.58 L286.87 37.61 L288.52 37.65 L290.16 37.68 L291.80 37.73 L293.44 37.78 L295.08 37.83 L296.72 37.89 L298.36 37.95 L300.00 38.01 L301.63 38.08 L303.27 38.16 L304.91 38.24 L306.54 38.33 L308.18 38.42 L309.81 38.51 L311.45 38.61 L313.08 38.72 L314.72 38.83 L316.35 38.95 L317.98 39.07 L319.61 39.20 L321.24 39.33 L322.87 39.47 L324.50 39.61 L326.13 39.76 L327.75 39.92 L329.38 40.08 L331.01 40.24 L332.64 40.41 L334.27 40.58 L335.90 40.75 L337.53 40.93 L339.17 41.10 L340.80 41.28 L342.44 41.46 L344.09 41.63 L345.73 41.81 L347.38 41.99 L349.04 42.16 L350.69 42.33 L352.36 42.50 L354.02 42.67 L355.70 42.83 L357.37 42.99 L359.05 43.16 L360.73 43.33 L362.40 43.50 L364.07 43.69 L365.74 43.89 L367.40 44.10 L369.05 44.34 L370.69 44.60 L372.32 44.88 L373.93 45.19 L375.53 45.53 L377.11 45.90 L378.67 46.31 L380.21 46.76 L381.72 47.24 L383.21 47.78 L384.68 48.36 L386.11 48.99 L387.54 49.69 L388.97 50.45 L390.44 51.30 L391.95 52.24 L393.52 53.28 L394.99 54.41 L396.11 55.61 L396.63 56.86 L396.35 58.13 L395.40 59.30 L394.04 60.27 L392.43 61.06 L390.74 61.76 L389.08 62.42 L387.45 63.04 L385.86 63.64 L384.29 64.22 L382.75 64.77 L381.23 65.31 L379.73 65.83 L378.23 66.33 L376.73 66.83 L375.23 67.32 L373.73 67.80 L372.21 68.27 L370.68 68.75 L369.14 69.22 L367.59 69.69 L366.02 70.16 L364.45 70.62 L362.87 71.08 L361.28 71.53 L359.69 71.98 L358.09 72.42 L356.49 72.85 L354.89 73.28 L353.29 73.69 L351.69 74.10 L350.09 74.51 L348.48 74.90 L346.88 75.29 L345.27 75.67 L343.66 76.04 L342.06 76.41 L340.45 76.77 L338.84 77.12 L337.23 77.47 L335.62 77.81 L334.01 78.14 L332.40 78.47 L330.79 78.79 L329.18 79.11 L327.56 79.42 L325.95 79.72 L324.33 80.02 L322.72 80.31 L321.10 80.60 L319.49 80.89 L317.87 81.17 L316.25 81.44 L314.63 81.71 L313.01 81.98 L311.39 82.24 L309.77 82.50 L308.15 82.75 L306.53 83.00 L304.91 83.24 L303.28 83.49 L301.66 83.73 L300.03 83.96 L298.41 84.19 L296.78 84.42 L295.16 84.65 L293.53 84.87 L291.90 85.09 L290.28 85.31 L288.65 85.53 L287.02 85.74 L285.39 85.95 L283.76 86.16 L282.13 86.37 L280.50 86.58 L278.86 86.78 L277.23 86.99 L275.60 87.19 L273.97 87.39 L272.33 87.59 L270.70 87.79 L269.06 87.99 L267.43 88.19 L265.79 88.39" stroke="#180852" stroke-width="2.15"/>
<path d="M45.59 44.30 L47.26 44.12 L48.93 43.94 L50.60 43.77 L52.27 43.60 L53.94 43.43 L55.61 43.26 L57.28 43.09 L58.95 42.92 L60.61 42.76 L62.28 42.60 L63.95 42.44 L65.62 42.28 L67.29 42.12 L68.97 41.97 L70.64 41.82 L72.31 41.67 L73.98 41.52 L75.65 41.37 L77.32 41.22 L78.99 41.08 L80.66 40.93 L82.33 40.79 L84.01 40.65 L85.68 40.52 L87.35 40.38 L89.02 40.24 L90.69 40.11 L92.37 39.98 L94.04 39.85 L95.71 39.72 L97.38 39.59 L99.06 39.47 L100.73 39.34 L102.40 39.22 L104.08 39.10 L105.75 38.98 L107.42 38.86 L109.10 38.75 L110.77 38.63 L112.45 38.52 L114.12 38.40 L115.79 38.29 L117.47 38.18 L119.14 38.07 L120.82 37.97 L122.49 37.86 L124.17 37.76 L125.84 37.65 L127.52 37.55 L129.19 37.45 L130.87 37.35 L132.54 37.25 L134.22 37.16 L135.89 37.06 L137.57 36.97 L139.24 36.87 L140.92 36.78 L142.59 36.69 L144.27 36.60 L145.94 36.51 L147.62 36.43 L149.30 36.34 L150.97 36.26 L152.65 36.17 L154.32 36.09 L156.00 36.01 L157.68 35.93 L159.35 35.85 L161.03 35.77 L162.71 35.69 L164.38 35.62 L166.06 35.54 L167.73 35.47 L169.41 35.39 L171.09 35.32 L172.76 35.25 L174.44 35.18 L176.12 35.11 L177.80 35.04 L179.47 34.97 L181.15 34.91 L182.83 34.84 L184.50 34.78 L186.18 34.71 L187.86 34.65 L189.53 34.59 L191.21 34.52 L192.89 34.46 L194.57 34.40 L196.24 34.34 L197.92 34.29 L199.60 34.23 L201.27 34.17 L202.95 34.12 L204.63 34.06 L206.31 34.01 L207.98 33.95 L209.66 33.90 L211.34 33.85 L213.01 33.80 L214.69 33.74 L216.37 33.69 L218.05 33.64 L219.72 33.59 L221.40 33.55 L223.08 33.50 L224.76 33.45 L226.43 33.40 L228.11 33.36 L229.79 33.31 L231.46 33.27 L233.14 33.22 L234.82 33.18 L236.50 33.14 L238.17 33.09 L239.85 33.05 L241.53 33.01 L243.20 32.97 L244.88 32.93 L246.56 32.90 L248.24 32.86 L249.91 32.83 L251.59 32.79 L253.27 32.76 L254.94 32.73 L256.62 32.71 L258.30 32.68 L259.97 32.66 L261.65 32.63 L263.33 32.62 L265.01 32.60 L266.68 32.58 L268.36 32.57 L270.04 32.56 L271.71 32.55 L273.39 32.55 L275.07 32.54 L276.74 32.54 L278.42 32.55 L280.10 32.55 L281.77 32.56 L283.45 32.58 L285.13 32.59 L286.80 32.61 L288.48 32.63 L290.16 32.66 L291.84 32.69 L293.51 32.72 L295.19 32.76 L296.87 32.80 L298.54 32.84 L300.22 32.89 L301.90 32.94 L303.57 33.00 L305.25 33.06 L306.93 33.13 L308.60 33.20 L310.28 33.27 L311.96 33.35 L313.63 33.43 L315.31 33.52 L316.99 33.62 L318.66 33.71 L320.34 33.82 L322.02 33.93 L323.69 34.04 L325.37 34.16 L327.05 34.28 L328.72 34.41 L330.40 34.55 L332.08 34.69 L333.75 34.84 L335.43 34.99 L337.10 35.15 L338.77 35.32 L340.45 35.49 L342.12 35.67 L343.79 35.86 L345.46 36.05 L347.13 36.25 L348.80 36.46 L350.46 36.67 L352.13 36.89 L353.79 37.12 L355.45 37.36 L357.11 37.61 L358.77 37.86 L360.43 38.12 L362.08 38.40 L363.74 38.67 L365.39 38.96 L367.04 39.26 L368.68 39.56 L370.33 39.88 L371.97 40.20 L373.61 40.53 L375.25 40.88 L376.88 41.23 L378.51 41.59 L380.14 41.96 L381.77 42.34 L383.39 42.74 L385.01 43.14 L386.63 43.55 L388.24 44.00 L389.84 44.49 L391.41 45.05 L392.97 45.68 L394.50 46.42 L396.00 47.27 L397.45 48.25 L398.84 49.35 L400.13 50.59 L401.18 51.94 L401.68 53.35 L401.36 54.77 L400.38 56.10 L399.09 57.27 L397.68 58.23 L396.19 59.03 L394.64 59.70 L393.05 60.29 L391.44 60.83 L389.83 61.36 L388.22 61.88 L386.62 62.41 L385.01 62.92 L383.41 63.44 L381.81 63.95 L380.21 64.45 L378.61 64.95 L377.00 65.44 L375.40 65.92 L373.80 66.40 L372.19 66.87 L370.58 67.33 L368.97 67.78 L367.36 68.23 L365.74 68.66 L364.12 69.09 L362.50 69.52 L360.88 69.93 L359.26 70.34 L357.63 70.74 L356.00 71.13 L354.37 71.52 L352.74 71.90 L351.11 72.27 L349.48 72.64 L347.84 73.00 L346.20 73.36 L344.56 73.71 L342.92 74.05 L341.28 74.39 L339.64 74.73 L337.99 75.06 L336.34 75.38 L334.70 75.70 L333.05 76.01 L331.40 76.32 L329.75 76.62 L328.10 76.92 L326.44 77.22 L324.79 77.51 L323.13 77.80 L321.48 78.08 L319.82 78.36 L318.17 78.64 L316.51 78.91 L314.85 79.18 L313.19 79.45 L311.53 79.71 L309.87 79.97 L308.21 80.23 L306.55 80.49 L304.89 80.74 L303.23 80.99 L301.57 81.24 L299.91 81.49 L298.24 81.73 L296.58 81.98 L294.92 82.22 L293.26 82.46 L291.60 82.70 L289.94 82.94 L288.27 83.17 L286.61 83.41 L284.95 83.65 L283.29 83.88 L281.63 84.12 L279.97 84.35 L278.31 84.59 L276.65 84.82 L274.99 85.06 L273.34 85.29 L271.68 85.53 L270.02 85.77 L268.37 86.00 L266.71 86.24" stroke="#1e0848" stroke-width="2.15"/>
<path d="M170.81 248.30 L171.16 247.77 L171.50 247.24 L171.85 246.71 L172.19 246.19 L172.54 245.66 L172.88 245.13 L173.23 244.60 L173.57 244.07 L173.91 243.54 L174.26 243.02 L174.60 242.49 L174.95 241.96 L175.29 241.43 L175.64 240.90 L175.98 240.37 L176.33 239.85 L176.67 239.32 L177.01 238.79 L177.36 238.26 L177.70 237.73 L178.05 237.20 L178.39 236.68 L178.74 236.15 L179.08 235.62 L179.42 235.09 L179.77 234.56 L180.11 234.03 L180.46 233.50 L180.80 232.98 L181.15 232.45 L181.49 231.92 L181.83 231.39 L182.18 230.86 L182.52 230.33 L182.87 229.80 L183.21 229.27 L183.55 228.75 L183.90 228.22 L184.24 227.69 L184.58 227.16 L184.93 226.63 L185.27 226.10 L185.61 225.57 L185.96 225.04 L186.30 224.51 L186.64 223.99 L186.99 223.46 L187.33 222.93 L187.67 222.40 L188.02 221.87 L188.36 221.34 L188.70 220.81 L189.05 220.28 L189.39 219.75 L189.73 219.22 L190.07 218.69 L190.42 218.16 L190.76 217.63 L191.10 217.10 L191.44 216.57 L191.79 216.04 L192.13 215.51 L192.47 214.98 L192.81 214.45 L193.15 213.92 L193.49 213.39 L193.84 212.86 L194.18 212.33 L194.52 211.80 L194.86 211.27 L195.20 210.74 L195.54 210.21 L195.88 209.68 L196.23 209.15 L196.57 208.62 L196.91 208.09 L197.25 207.56 L197.59 207.03 L197.93 206.50 L198.27 205.96 L198.61 205.43 L198.95 204.90 L199.29 204.37 L199.63 203.84 L199.97 203.31 L200.31 202.78 L200.65 202.24 L200.99 201.71 L201.33 201.18 L201.66 200.65 L202.00 200.12 L202.34 199.59 L202.68 199.05 L203.02 198.52 L203.36 197.99 L203.70 197.46 L204.03 196.92 L204.37 196.39 L204.71 195.86 L205.05 195.33 L205.38 194.79 L205.72 194.26 L206.06 193.73 L206.40 193.19 L206.73 192.66 L207.07 192.13 L207.41 191.59 L207.74 191.06 L208.08 190.53 L208.41 189.99 L208.75 189.46 L209.09 188.93 L209.42 188.39 L209.76 187.86 L210.09 187.32 L210.43 186.79 L210.76 186.25 L211.10 185.72 L211.43 185.18 L211.77 184.65 L212.10 184.11 L212.43 183.58 L212.77 183.04 L213.10 182.51 L213.43 181.97 L213.77 181.44 L214.10 180.90 L214.43 180.37 L214.76 179.83 L215.10 179.29 L215.43 178.76 L215.76 178.22 L216.09 177.68 L216.42 177.15 L216.76 176.61 L217.09 176.07 L217.42 175.54 L217.75 175.00 L218.08 174.46 L218.41 173.93 L218.74 173.39 L219.07 172.85 L219.40 172.31 L219.73 171.77 L220.06 171.24 L220.38 170.70 L220.71 170.16 L221.04 169.62 L221.37 169.08 L221.70 168.54 L222.02 168.00 L222.35 167.47 L222.68 166.93 L223.01 166.39 L223.33 165.85 L223.66 165.31 L223.98 164.77 L224.31 164.23 L224.64 163.69 L224.96 163.15 L225.29 162.61 L225.61 162.07 L225.93 161.52 L226.26 160.98 L226.58 160.44 L226.91 159.90 L227.23 159.36 L227.55 158.82 L227.88 158.28 L228.20 157.73 L228.52 157.19 L228.84 156.65 L229.16 156.11 L229.49 155.56 L229.81 155.02 L230.13 154.48 L230.45 153.93 L230.77 153.39 L231.09 152.85 L231.41 152.30 L231.73 151.76 L232.05 151.22 L232.36 150.67 L232.68 150.13 L233.00 149.58 L233.32 149.04 L233.64 148.49 L233.95 147.95 L234.27 147.40 L234.59 146.86 L234.90 146.31 L235.22 145.76 L235.53 145.22 L235.85 144.67 L236.16 144.12 L236.48 143.58 L236.79 143.03 L237.10 142.48 L237.42 141.94 L237.73 141.39 L238.04 140.84 L238.35 140.29 L238.67 139.74 L238.98 139.20 L239.29 138.65 L239.60 138.10 L239.91 137.55 L240.22 137.00 L240.53 136.45 L240.84 135.90 L241.15 135.35 L241.46 134.80 L241.77 134.25 L242.07 133.70 L242.38 133.15 L242.69 132.60 L242.99 132.05 L243.30 131.49 L243.61 130.94 L243.91 130.39 L244.22 129.84 L244.52 129.29 L244.82 128.73 L245.13 128.18 L245.43 127.63 L245.73 127.08 L246.04 126.52 L246.34 125.97 L246.64 125.41 L246.94 124.86 L247.24 124.31 L247.54 123.75 L247.84 123.20 L248.14 122.64 L248.44 122.09 L248.74 121.53 L249.04 120.97 L249.34 120.42 L249.63 119.86 L249.93 119.31 L250.23 118.75 L250.52 118.19 L250.82 117.63 L251.11 117.08 L251.41 116.52 L251.70 115.96 L251.99 115.40 L252.29 114.84 L252.58 114.28 L252.87 113.73 L253.16 113.17 L253.45 112.61 L253.75 112.05 L254.04 111.49 L254.32 110.93 L254.61 110.37 L254.90 109.81 L255.19 109.24 L255.48 108.68 L255.77 108.12 L256.05 107.56 L256.34 107.00 L256.62 106.43 L256.91 105.87 L257.19 105.31 L257.48 104.75 L257.76 104.18 L258.04 103.62 L258.32 103.05 L258.61 102.49 L258.89 101.92 L259.17 101.36 L259.45 100.79 L259.73 100.23 L260.01 99.66 L260.28 99.10 L260.56 98.53 L260.84 97.96 L261.12 97.40 L261.39 96.83 L261.67 96.26 L261.94 95.70 L262.22 95.13 L262.49 94.56 L262.76 93.99 L263.04 93.42 L263.31 92.85 L263.58 92.28 L263.85 91.71 L264.12 91.14 L264.39 90.57 L264.66 90.00 L264.93 89.43 L265.19 88.86 L265.46 88.29 L265.73 87.72 L265.99 87.15 L266.26 86.57 L266.52 86.00" stroke="#000" stroke-width="2.3"/>
</g>
<path d="M53.60 248.20 v-3.80 M53.60 21.25 v3.80 M63.63 248.20 v-2.30 M63.63 21.25 v2.30 M73.66 248.20 v-2.30 M73.66 21.25 v2.30 M83.69 248.20 v-2.30 M83.69 21.25 v2.30 M93.72 248.20 v-2.30 M93.72 21.25 v2.30 M103.75 248.20 v-3.80 M103.75 21.25 v3.80 M113.78 248.20 v-2.30 M113.78 21.25 v2.30 M123.81 248.20 v-2.30 M123.81 21.25 v2.30 M133.84 248.20 v-2.30 M133.84 21.25 v2.30 M143.87 248.20 v-2.30 M143.87 21.25 v2.30 M153.90 248.20 v-3.80 M153.90 21.25 v3.80 M163.93 248.20 v-2.30 M163.93 21.25 v2.30 M173.96 248.20 v-2.30 M173.96 21.25 v2.30 M183.99 248.20 v-2.30 M183.99 21.25 v2.30 M194.02 248.20 v-2.30 M194.02 21.25 v2.30 M204.05 248.20 v-3.80 M204.05 21.25 v3.80 M214.08 248.20 v-2.30 M214.08 21.25 v2.30 M224.11 248.20 v-2.30 M224.11 21.25 v2.30 M234.14 248.20 v-2.30 M234.14 21.25 v2.30 M244.17 248.20 v-2.30 M244.17 21.25 v2.30 M254.20 248.20 v-3.80 M254.20 21.25 v3.80 M264.23 248.20 v-2.30 M264.23 21.25 v2.30 M274.26 248.20 v-2.30 M274.26 21.25 v2.30 M284.29 248.20 v-2.30 M284.29 21.25 v2.30 M294.32 248.20 v-2.30 M294.32 21.25 v2.30 M304.35 248.20 v-3.80 M304.35 21.25 v3.80 M314.38 248.20 v-2.30 M314.38 21.25 v2.30 M324.41 248.20 v-2.30 M324.41 21.25 v2.30 M334.44 248.20 v-2.30 M334.44 21.25 v2.30 M344.47 248.20 v-2.30 M344.47 21.25 v2.30 M354.50 248.20 v-3.80 M354.50 21.25 v3.80 M364.53 248.20 v-2.30 M364.53 21.25 v2.30 M374.56 248.20 v-2.30 M374.56 21.25 v2.30 M384.59 248.20 v-2.30 M384.59 21.25 v2.30 M394.62 248.20 v-2.30 M394.62 21.25 v2.30 M404.65 248.20 v-3.80 M404.65 21.25 v3.80 M45.60 243.57 h2.30 M412.75 243.57 h-2.30 M45.60 237.14 h2.30 M412.75 237.14 h-2.30 M45.60 231.69 h2.30 M412.75 231.69 h-2.30 M45.60 226.98 h2.30 M412.75 226.98 h-2.30 M45.60 222.82 h2.30 M412.75 222.82 h-2.30 M45.60 219.10 h4.00 M412.75 219.10 h-4.00 M45.60 194.63 h2.30 M412.75 194.63 h-2.30 M45.60 180.31 h2.30 M412.75 180.31 h-2.30 M45.60 170.15 h2.30 M412.75 170.15 h-2.30 M45.60 162.27 h2.30 M412.75 162.27 h-2.30 M45.60 155.84 h2.30 M412.75 155.84 h-2.30 M45.60 150.39 h2.30 M412.75 150.39 h-2.30 M45.60 145.68 h2.30 M412.75 145.68 h-2.30 M45.60 141.52 h2.30 M412.75 141.52 h-2.30 M45.60 137.80 h4.00 M412.75 137.80 h-4.00 M45.60 113.33 h2.30 M412.75 113.33 h-2.30 M45.60 99.01 h2.30 M412.75 99.01 h-2.30 M45.60 88.85 h2.30 M412.75 88.85 h-2.30 M45.60 80.97 h2.30 M412.75 80.97 h-2.30 M45.60 74.54 h2.30 M412.75 74.54 h-2.30 M45.60 69.09 h2.30 M412.75 69.09 h-2.30 M45.60 64.38 h2.30 M412.75 64.38 h-2.30 M45.60 60.22 h2.30 M412.75 60.22 h-2.30 M45.60 56.50 h4.00 M412.75 56.50 h-4.00 M45.60 32.03 h2.30 M412.75 32.03 h-2.30" stroke="#909090" stroke-width="0.7" fill="none"/>
<rect x="45.60" y="21.25" width="367.15" height="226.95" fill="none" stroke="#8c8c8c" stroke-width="0.8"/>
<text x="53.60" y="262.6" font-size="14.5" text-anchor="middle" font-family="Liberation Sans, sans-serif" fill="#000">0.92</text>
<text x="103.75" y="262.6" font-size="14.5" text-anchor="middle" font-family="Liberation Sans, sans-serif" fill="#000">0.93</text>
<text x="153.90" y="262.6" font-size="14.5" text-anchor="middle" font-family="Liberation Sans, sans-serif" fill="#000">0.94</text>
<text x="204.05" y="262.6" font-size="14.5" text-anchor="middle" font-family="Liberation Sans, sans-serif" fill="#000">0.95</text>
<text x="254.20" y="262.6" font-size="14.5" text-anchor="middle" font-family="Liberation Sans, sans-serif" fill="#000">0.96</text>
<text x="304.35" y="262.6" font-size="14.5" text-anchor="middle" font-family="Liberation Sans, sans-serif" fill="#000">0.97</text>
<text x="354.50" y="262.6" font-size="14.5" text-anchor="middle" font-family="Liberation Sans, sans-serif" fill="#000">0.98</text>
<text x="404.65" y="262.6" font-size="14.5" text-anchor="middle" font-family="Liberation Sans, sans-serif" fill="#000">0.99</text>
<text x="21.5" y="224.60" font-size="14.5" font-family="Liberation Sans, sans-serif" fill="#000">10<tspan font-size="10.2" dy="-5.5">7</tspan></text>
<text x="21.5" y="143.30" font-size="14.5" font-family="Liberation Sans, sans-serif" fill="#000">10<tspan font-size="10.2" dy="-5.5">8</tspan></text>
<text x="21.5" y="62.00" font-size="14.5" font-family="Liberation Sans, sans-serif" fill="#000">10<tspan font-size="10.2" dy="-5.5">9</tspan></text>
<text x="205.2" y="12.6" font-size="14.45" font-family="Liberation Sans, sans-serif" fill="#000">FSU(5)</text>
<text x="84.5" y="231.1" font-size="14.45" word-spacing="0.3" font-family="Liberation Sans, sans-serif" fill="#000">m = 2</text>
<text x="222.3" y="283.6" font-size="14.45" font-style="italic" font-family="Liberation Sans, sans-serif" fill="#000">n<tspan font-size="9.3" dy="3.2" dx="0.4">s</tspan></text>
<text transform="translate(12.2,162) rotate(-90)" font-size="14" font-family="Liberation Sans, sans-serif" fill="#000"><tspan font-style="italic">T</tspan><tspan font-style="italic" font-size="10" dy="2.8">r</tspan><tspan dy="-2.8" dx="0.9"> (GeV)</tspan></text>
</svg>
</body></html>
